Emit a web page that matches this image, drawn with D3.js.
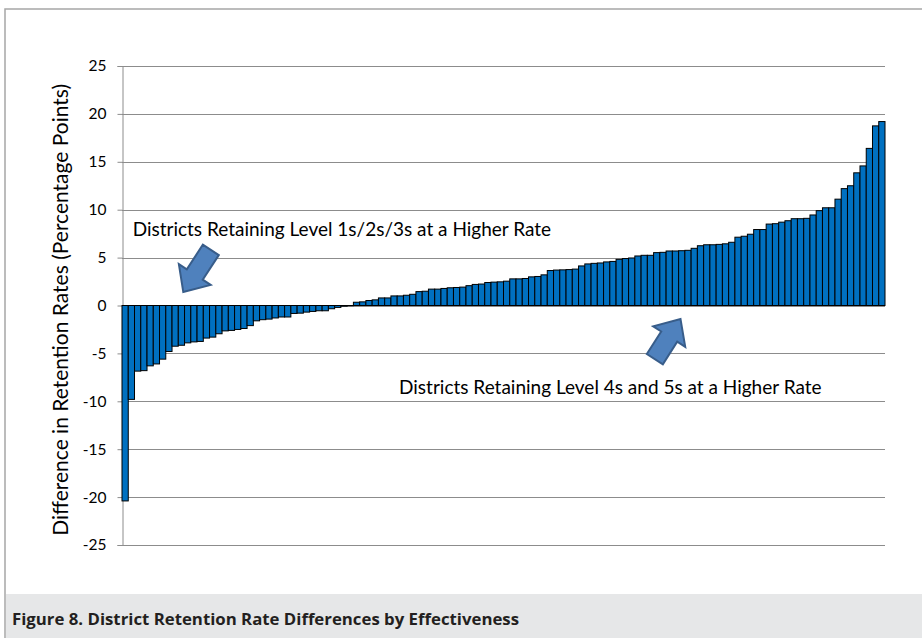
<!DOCTYPE html>
<html>
<head>
<meta charset="utf-8">
<script src="https://cdn.jsdelivr.net/npm/d3@7"></script>
<style>
  body { margin: 0; background: #fff; }
  svg { display: block; }
</style>
</head>
<body>
<div id="chart"></div>
<script>
// Retention rate difference per district (percentage points), sorted
var diffs = [
  -20.4, -9.8, -6.85, -6.8, -6.3, -6.1, -5.6, -4.8, -4.25, -4.15,
  -3.9, -3.8, -3.75, -3.4, -3.3, -2.95, -2.65, -2.6, -2.5, -2.4,
  -2.1, -1.6, -1.48, -1.42, -1.3, -1.2, -1.2, -0.83, -0.8, -0.69,
  -0.62, -0.55, -0.55, -0.34, -0.2, -0.07, -0.02,
  0.34, 0.38, 0.52, 0.59, 0.79, 0.79, 1.0, 1.0, 1.07, 1.17,
  1.45, 1.49, 1.71, 1.71, 1.78, 1.85, 1.88, 1.92, 2.07, 2.2, 2.24,
  2.4, 2.44, 2.47, 2.54, 2.78, 2.78, 2.82, 2.99, 3.03, 3.2,
  3.65, 3.7, 3.72, 3.75, 3.8, 4.13, 4.34, 4.4, 4.44,
  4.55, 4.6, 4.82, 4.9, 4.96, 5.17, 5.24, 5.24, 5.52, 5.55,
  5.69, 5.69, 5.72, 5.76, 5.97, 6.24, 6.34, 6.34, 6.38,
  6.44, 6.6, 7.13, 7.23, 7.44, 7.93, 7.93, 8.5, 8.54, 8.7,
  8.85, 9.06, 9.06, 9.1, 9.45,
  9.9, 10.2, 10.2, 11.1, 12.2, 12.5, 13.85, 14.57, 16.4, 18.75, 19.2
];
var districts = d3.range(1, diffs.length + 1);
var yTicks = [-25, -20, -15, -10, -5, 0, 5, 10, 15, 20, 25];

var yTitle = 'Difference in Retention Rates (Percentage Points)';
var caption = 'Figure 8. District Retention Rate Differences by Effectiveness';
// annotations: arrow tail/tip in (district, value) coords
var notes = [
  { text: 'Districts Retaining Level 1s/2s/3s at a Higher Rate', tx: 2.7, ty: 7.3,
    from: [15.2, 5.8], to: [10.8, 1.4] },
  { text: 'Districts Retaining Level 4s and 5s at a Higher Rate', tx: 45.3, ty: -9.2,
    from: [86.2, -5.6], to: [90.3, -1.4] }
];

var width = 922, height = 638;
var plot = { left: 122, right: 885, top: 66, bottom: 545 };

var svg = d3.select('#chart').append('svg')
  .attr('width', width)
  .attr('height', height);

svg.append('rect')
  .attr('width', width).attr('height', height)
  .attr('fill', '#fff');

// frame lines top & left
svg.append('path')
  .attr('d', 'M5,' + height + 'V9H' + width)
  .attr('fill', 'none')
  .attr('stroke', '#a6a6a6')
  .attr('stroke-width', 1.5);

// caption band
svg.append('rect')
  .attr('x', 6).attr('y', 594)
  .attr('width', width - 6).attr('height', height - 594)
  .attr('fill', '#e6e7e8');

svg.append('text')
  .attr('x', 12).attr('y', 625)
  .attr('font-family', '"Open Sans", sans-serif')
  .attr('font-weight', 'bold')
  .attr('font-size', 16.8)
  .attr('fill', '#231f20')
  .text(caption);

var x = d3.scaleBand()
  .domain(districts)
  .range([plot.left, plot.right])
  .paddingInner(0);

var y = d3.scaleLinear()
  .domain([-25, 25])
  .range([plot.bottom, plot.top]);

// gridlines
svg.append('g')
  .selectAll('line')
  .data(yTicks)
  .enter().append('line')
  .attr('x1', plot.left).attr('x2', plot.right)
  .attr('y1', function(d) { return Math.round(y(d)) + 0.5; })
  .attr('y2', function(d) { return Math.round(y(d)) + 0.5; })
  .attr('stroke', '#8c8c8c')
  .attr('stroke-width', 1);

// Y axis
var yAxis = svg.append('g')
  .attr('transform', 'translate(' + (plot.left + 0.5) + ',0)')
  .call(d3.axisLeft(y).tickValues(yTicks).tickSize(5).tickPadding(11)
    .tickFormat(function(d) { return String(d); }));
yAxis.select('.domain').attr('stroke', '#8c8c8c');
yAxis.selectAll('.tick line').attr('stroke', '#8c8c8c');
yAxis.selectAll('.tick text')
  .attr('font-family', 'Lato, sans-serif')
  .attr('font-size', 15.5)
  .attr('fill', '#000');

// bars
svg.append('g')
  .selectAll('rect')
  .data(diffs)
  .enter().append('rect')
  .attr('x', function(d, i) { return x(districts[i]); })
  .attr('width', x.bandwidth())
  .attr('y', function(d) { return y(Math.max(0, d)); })
  .attr('height', function(d) { return Math.abs(y(d) - y(0)); })
  .attr('fill', '#0070c0')
  .attr('stroke', '#000')
  .attr('stroke-width', 1);

// Y title
svg.append('text')
  .attr('transform', 'translate(68,' + y(-0.45) + ') rotate(-90)')
  .attr('text-anchor', 'middle')
  .attr('font-family', 'Lato, sans-serif')
  .attr('font-size', 21)
  .attr('fill', '#000')
  .text(yTitle);

// annotation arrows + labels
function px(p) { return [x(districts[0]) + (p[0] - 1) * x.bandwidth(), y(p[1])]; }
function arrowPath(a, b) {
  var dx = b[0] - a[0], dy = b[1] - a[1];
  var L = Math.sqrt(dx * dx + dy * dy);
  var ux = dx / L, uy = dy / L, vx = -uy, vy = ux;
  var s = 9.5, h = 19, hl = 21;
  var pts = [[0, -s], [L - hl, -s], [L - hl, -h], [L, 0], [L - hl, h], [L - hl, s], [0, s]];
  return 'M' + pts.map(function(p) {
    return [a[0] + ux * p[0] + vx * p[1], a[1] + uy * p[0] + vy * p[1]].join(',');
  }).join('L') + 'Z';
}

notes.forEach(function(n) {
  svg.append('path')
    .attr('d', arrowPath(px(n.from), px(n.to)))
    .attr('fill', '#4f81bd')
    .attr('stroke', '#385d8a')
    .attr('stroke-width', 2)
    .attr('stroke-linejoin', 'miter');
  var p = px([n.tx, n.ty]);
  svg.append('text')
    .attr('x', p[0]).attr('y', p[1])
    .attr('font-family', 'Lato, sans-serif')
    .attr('font-size', 19)
    .attr('fill', '#000')
    .text(n.text);
});
</script>
</body>
</html>
